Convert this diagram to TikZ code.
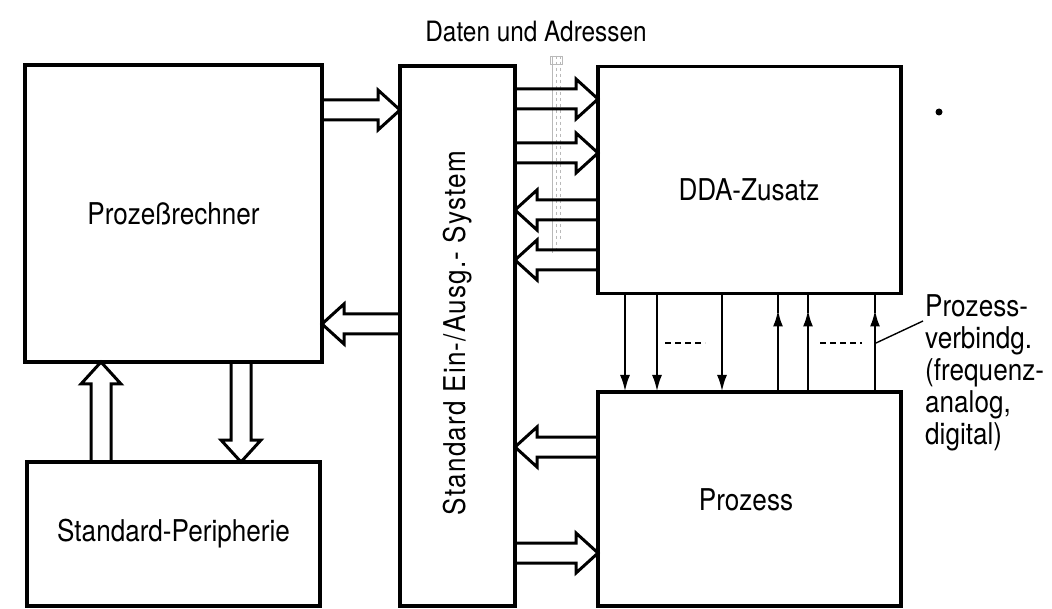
\documentclass[tikz,border=0pt]{standalone}
\usepackage{fontspec}
\setmainfont{TeX Gyre Heros}[FakeStretch=0.87]
\usetikzlibrary{arrows.meta,calc}
\tikzset{
  box/.style={draw, line width=3.8pt, inner sep=0pt, outer sep=0pt,
    font=\fontsize{30}{32}\selectfont},
  txt/.style={inner sep=0pt, font=\fontsize{30}{32}\selectfont},
  harrowline/.style={line width=3pt, line join=miter},
  thinarr/.style={line width=2.8pt, -{Latex[length=17pt,width=10pt]}},
  thinline/.style={line width=2.8pt},
  dots/.style={line width=2.8pt, dash pattern=on 6pt off 4pt},
  bundle/.style={gray!55, line width=0.8pt}
}
\newcommand{\harrow}[2]{%
  \draw[harrowline] let \p1=(#1), \p2=(#2),
    \n1={veclen(\x2-\x1,\y2-\y1)}, \n2={atan2(\y2-\y1,\x2-\x1)} in
    [shift={(\p1)}, rotate=\n2]
    (0,-10) -- ({\n1-22},-10) -- ({\n1-22},-20) -- (\n1,0)
    -- ({\n1-22},20) -- ({\n1-22},10) -- (0,10);}
\newcommand{\harrowH}[3]{\coordinate (tmpy) at (0,#3); \harrow{#1 |- tmpy}{#2 |- tmpy}}
\newcommand{\harrowV}[3]{\coordinate (tmpx) at (#3,0); \harrow{tmpx |- #1}{tmpx |- #2}}
\begin{document}
\begin{tikzpicture}[x=1pt,y=-1pt]
\useasboundingbox (0,0) rectangle (1052,609);
\fill[white] (0,0) rectangle (1052,609);

% boxes
\node[box, minimum width=297pt, minimum height=297pt] (rech) at (173.5,213.5) {Prozeßrechner};
\node[box, minimum width=293pt, minimum height=144pt] (peri) at (173.5,534) {Standard-Peripherie};
\node[box, minimum width=115pt, minimum height=540pt] (sys) at (457.5,336) {};
\node[txt, rotate=90] (systxt) at (458,333) {\addfontfeature{LetterSpace=4}Standard Ein-/Ausg.- System};
\node[box, minimum width=303pt, minimum height=227pt] (dda) at (749.5,180) {};
\node[txt] (ddatxt) at (749,190) {DDA-Zusatz};
\node[box, minimum width=303pt, minimum height=214pt] (proz) at (749.5,499) {};
\node[txt] (proztxt) at (746,500) {Prozess};

% top label and faint bus bundle
\node[txt, font=\fontsize{28}{30}\selectfont] (daten) at (536,32) {Daten und Adressen};
\draw[bundle] (552,56) -- (552,253);
\draw[bundle, dashed] (556,56) -- (556,253);
\draw[bundle, dashed] (560,56) -- (560,240);
\draw[bundle] (550,56) rectangle (562,64);

% hollow arrows
\harrowH{rech.east}{sys.west}{110}
\harrowH{sys.west}{rech.east}{324}
\harrowH{sys.east}{dda.west}{99}
\harrowH{sys.east}{dda.west}{153}
\harrowH{dda.west}{sys.east}{210}
\harrowH{dda.west}{sys.east}{260}
\harrowH{proz.west}{sys.east}{447}
\harrowH{sys.east}{proz.west}{553}
\harrowV{peri.north}{rech.south}{101}
\harrowV{rech.south}{peri.north}{241}

% thin process connections
\foreach \xx in {625,657,722}{
  \coordinate (tx) at (\xx,0);
  \draw[thinarr] (tx |- dda.south) -- (tx |- proz.north);
}
\foreach \xx in {778,808,875}{
  \coordinate (tx) at (\xx,0);
  \draw[thinarr] (tx |- proz.north) -- ($(tx |- dda.south)+(0,16)$);
  \draw[thinline] (tx |- dda.south) -- ($(tx |- dda.south)+(0,20)$);
}
\draw[dots] (665,343) -- (705,343);
\draw[dots] (820,343) -- (862,343);

% side label
\node[txt, anchor=north west, align=left] (pv) at (925,294)
  {Prozess-\\verbindg.\\(frequenz-\\analog,\\digital)};
\coordinate (leadA) at (876,343);
\coordinate (leadB) at (923,321);
\draw[line width=1.4pt] (leadA) -- (leadB);

% small dot
\fill (939,112) circle (3.5pt);
\end{tikzpicture}
\end{document}
